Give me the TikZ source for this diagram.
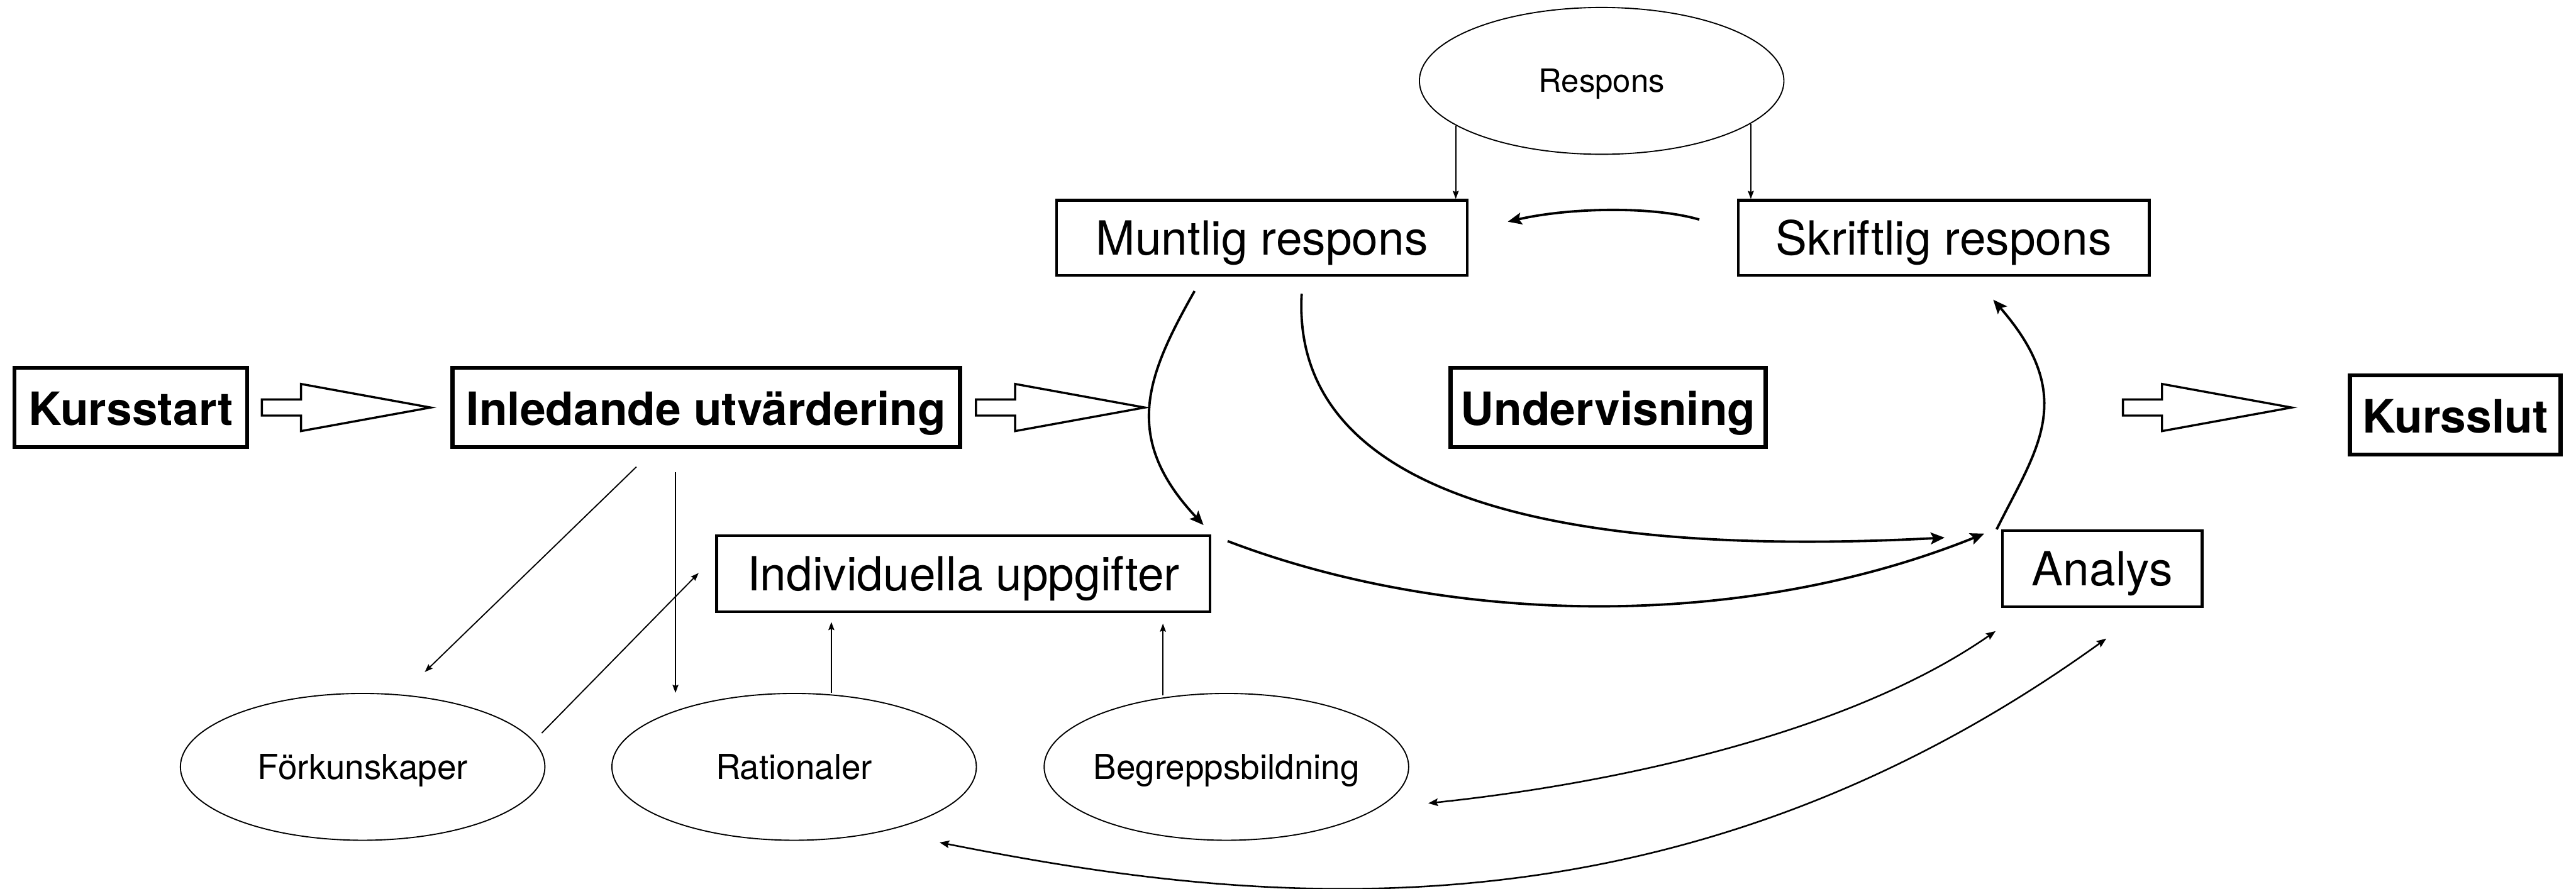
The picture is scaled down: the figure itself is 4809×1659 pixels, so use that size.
\documentclass[tikz,border=0pt]{standalone}
\usepackage{fontspec}
\setmainfont{TeX Gyre Heros}
\usetikzlibrary{calc,arrows.meta,shapes.geometric}
\begin{document}
\begin{tikzpicture}[x=0.01cm,y=-0.01cm,
  boxreg/.style={draw, rectangle, line width=0.05cm, inner sep=0pt, text height=18pt, text depth=0pt, font=\fontsize{25}{30}\selectfont},
  boxbold/.style={draw, rectangle, line width=0.075cm, inner sep=0pt, text height=18.8pt, text depth=0pt, font=\fontsize{24.4}{29}\selectfont\bfseries},
  oval/.style={draw, ellipse, line width=0.022cm, inner sep=0pt, minimum width=6.8cm, minimum height=2.74cm, text height=13.2pt, text depth=0pt, font=\fontsize{18.3}{22}\selectfont},
  thinarr/.style={line width=0.022cm, -{Stealth[length=0.15cm,width=0.11cm,inset=0.02cm]}},
  medarr/.style={line width=0.03cm, {Stealth[length=0.18cm,width=0.14cm,inset=0.03cm]}-{Stealth[length=0.18cm,width=0.14cm,inset=0.03cm]}},
  thickarr/.style={line width=0.045cm, -{Stealth[length=0.26cm,width=0.22cm,inset=0.05cm]}},
  pics/blockarr/.style={code={\draw[line width=0.04cm, miter limit=20] (0,-15) -- (73,-15) -- (73,-44) -- (315,0) -- (73,44) -- (73,15) -- (0,15) -- cycle;}}
]
\useasboundingbox (0,0) rectangle (4809,1659);

% boxes
\node[boxbold, minimum width=4.34cm, minimum height=1.48cm] (kstart) at (244,761) {Kursstart};
\node[boxbold, minimum width=9.47cm, minimum height=1.48cm] (inl) at (1318.5,761) {Inledande utvärdering};
\node[boxbold, minimum width=5.88cm, minimum height=1.48cm] (und) at (3002,761) {Undervisning};
\node[boxbold, minimum width=3.93cm, minimum height=1.48cm] (kslut) at (4583.5,775) {Kursslut};
\node[boxreg, minimum width=7.66cm, minimum height=1.40cm] (munt) at (2356,444) {Muntlig respons};
\node[boxreg, minimum width=7.67cm, minimum height=1.40cm] (skrift) at (3628.5,444) {Skriftlig respons};
\node[boxreg, minimum width=9.21cm, minimum height=1.42cm] (ind) at (1798.5,1071) {Individuella uppgifter};
\node[boxreg, minimum width=3.73cm, minimum height=1.42cm] (ana) at (3924.5,1062) {Analys};

% ellipses
\node[oval, text height=12.2pt, font=\fontsize{17}{20}\selectfont] (resp) at (2990,151) {\makebox[0pt]{Respons}};
\node[oval] (fork) at (677,1432) {\makebox[0pt]{Förkunskaper}};
\node[oval] (rat) at (1482.5,1432) {\makebox[0pt]{Rationaler}};
\node[oval] (beg) at (2289.5,1432) {\makebox[0pt]{Begreppsbildning}};

% block arrows
\pic at ($(kstart.east)+(24,0)$) {blockarr};
\pic at ($(inl.east)+(26,0)$) {blockarr};
\pic at ($(kslut.west)+(-420,-14)$) {blockarr};

% thin connectors
\draw[thinarr] ($(inl.south)+(-130.5,33)$) -- ($(fork.north)+(116,-39)$);
\draw[thinarr] ($(inl.south)+(-57.5,43)$) coordinate (b0) -- (b0 |- rat.north);
\draw[thinarr] ($(fork.east)+(-7,-63)$) -- ($(ind.west)+(-31,-1)$);
\draw[thinarr] ($(rat.north)+(69.5,0)$) coordinate (d0) -- ($(d0 |- ind.south)+(0,17)$);
\draw[thinarr] ($(beg.north)+(-118.5,5)$) coordinate (e0) -- ($(e0 |- ind.south)+(0,20)$);
\draw[thinarr] (resp.197) -- (resp.197 |- munt.north);
\draw[thinarr] (resp.344) -- (resp.344 |- skrift.north);

% thick curved connectors
\draw[thickarr] ($(skrift.west)+(-70,-34)$) .. controls +(-85,-25) and +(118,-27) .. ($(munt.east)+(73,-30)$);
\draw[thickarr] ($(munt.south)+(-126,27)$) .. controls +(-90,159) and +(-153,-163) .. ($(ind.north east)+(-15,-17)$);
\draw[thickarr] ($(munt.south)+(74,32)$) .. controls +(-20,354) and +(-783,41) .. ($(ana.west)+(-105,-58)$);
\draw[thickarr] ($(ind.north east)+(30,13)$) .. controls +(411,157) and +(-457,184) .. ($(ana.north west)+(-31,8)$);
\draw[thickarr] ($(ana.north west)+(-8,0)$) .. controls +(75,-151) and +(159,183) .. ($(skrift.south)+(92.5,43)$);

% double-headed curves
\draw[medarr] ($(beg.east)+(35.5,68)$) .. controls +(335,-35) and +(-278,194) .. ($(ana.south west)+(-10,43)$);
\draw[medarr] ($(rat.south)+(271.5,3)$) .. controls +(546,108) and +(-832,600) .. ($(ana.south)+(7.5,57)$);
\end{tikzpicture}
\end{document}
